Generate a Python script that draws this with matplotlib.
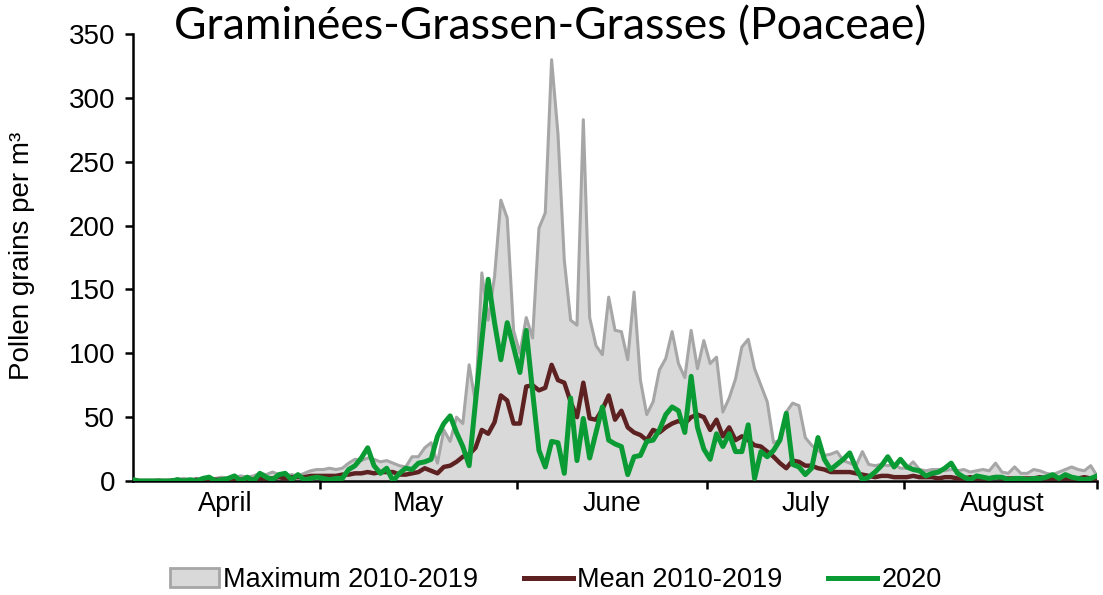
import numpy as np
import matplotlib.pyplot as plt
from matplotlib.patches import Patch
from matplotlib.lines import Line2D

# daily values, 1 April .. 31 August
months = ['April', 'May', 'June', 'July', 'August']
month_days = [30, 31, 30, 31, 31]

max_2010_2019 = [
    1, 0, 0, 0, 1, 0, 1, 1, 2, 1, 2, 1, 2,
    2, 3, 2, 3, 4, 3, 4, 6, 5, 7, 5, 4, 5,
    4, 6, 8, 9, 9, 10, 9, 10, 14, 17, 16, 18, 17, 15, 16, 14, 12, 11,
    19, 19, 26, 30, 14, 40, 31, 50, 45, 91, 61, 163, 126, 160, 220, 206,
    118, 100, 128, 112, 198, 210, 330, 272, 173, 126, 122, 283, 128, 106, 99, 144,
    118, 117, 95, 148, 79, 52, 62, 87, 96, 117, 92, 81, 118, 88,
    110, 92, 97, 54, 65, 80, 105, 111, 88, 75, 62, 30, 32, 54, 61, 59, 34, 28,
    24, 20, 21, 23, 16, 14, 12, 23, 13, 12, 13, 12, 13, 10, 10, 15,
    9, 8, 9, 9, 8, 9, 8, 9, 7, 8, 9, 8, 14, 7, 6, 11, 6, 6, 9, 8,
    6, 5, 7, 9, 11, 9, 8, 12, 4,
]

mean_2010_2019 = [
    0, 0, 0, 0, 0, 0, 0, 1, 0, 0,
    1, 0, 1, 1, 1, 1, 2, 1, 2, 1,
    2, 2, 2, 3, 2, 3, 3, 3, 4, 4,
    4, 4, 4, 5, 5, 6, 6, 7, 6, 7, 7, 7,
    5, 5, 6, 7, 10, 8, 6, 11, 12, 15, 19, 21, 26,
    40, 37, 46, 67, 63, 45, 45, 74, 75, 71, 73,
    91, 79, 77, 62, 50, 77, 49, 48, 56, 67,
    48, 55, 42, 38, 36, 32, 40, 38, 42, 45, 47, 45, 50, 52,
    50, 40, 48, 35, 42, 32, 35, 32, 28, 27, 23, 19, 14, 10, 16, 15, 12, 12,
    10, 9, 7, 7, 7, 7, 6, 5, 4, 3, 4, 4, 3,
    3, 3, 4, 3, 3, 3, 2, 3, 3, 2, 2, 3, 2, 2, 2, 3, 2, 2, 2, 2,
    2, 2, 3, 2, 2, 2, 2, 2, 2, 3, 2, 2,
]

pollen_2020 = [
    1, 0, 0, 0, 0, 0, 0, 1, 0, 1, 0, 2, 3, 0, 1, 2, 4, 0, 3, 0,
    6, 3, 1, 5, 6, 1, 5, 1, 2, 3, 2, 1, 2, 2,
    9, 12, 18, 26, 12, 6, 10, 0, 6, 10, 9, 14, 15, 17, 35, 45, 51, 38, 27, 12,
    62, 110, 158, 124, 95, 124, 105, 85, 118, 70, 24, 11, 31, 30, 6, 65, 16, 49, 18, 38, 58, 32,
    29, 27, 5, 19, 20, 31, 32, 40, 52, 58, 55, 38, 82, 42, 25, 17, 37, 27, 37, 23,
    23, 44, 2, 23, 19, 24, 32, 53, 13, 11, 5, 10,
    34, 17, 9, 13, 17, 22, 10, 1, 3, 7, 12, 19, 11, 17, 11, 9, 8, 4, 6, 7,
    10, 14, 6, 3, 1, 4, 3, 2, 3, 3, 1, 2, 2, 1, 2, 2, 3, 5, 2, 5, 3, 2, 1, 2, 4,
]

days = np.arange(len(max_2010_2019))

plt.rcParams['font.family'] = ['Liberation Sans', 'DejaVu Sans']

fig = plt.figure(figsize=(11.03, 5.95), dpi=100)
ax = fig.add_axes([0.1206, 0.1916, 0.874, 0.751])

ax.fill_between(days, max_2010_2019, color='#d9d9d9', lw=0, zorder=1)
ax.plot(days, max_2010_2019, color='#a6a6a6', lw=2.2, zorder=2)
ax.plot(days, mean_2010_2019, color='#5e2121', lw=3.2, zorder=3)
ax.plot(days, pollen_2020, color='#0b9b34', lw=3.6, zorder=4)

ax.set_xlim(0, len(days) - 1)
ax.set_ylim(0, 350)
ax.set_yticks(range(0, 351, 50))

# month boundaries as tick marks, month names in the middle
bounds = np.cumsum([0] + month_days) - 0.5
centers = (bounds[:-1] + bounds[1:]) / 2
ax.set_xticks(list(bounds[1:-1]) + [len(days) - 1])
ax.set_xticklabels([])
ax.set_xticks(centers, minor=True)
ax.set_xticklabels(months, minor=True)

for s in ['top', 'right']:
    ax.spines[s].set_visible(False)
for s in ['left', 'bottom']:
    ax.spines[s].set_linewidth(1.8)

ax.tick_params(axis='both', which='major', direction='out', length=6, width=1.8, labelsize=20)
ax.tick_params(axis='y', pad=7)
ax.tick_params(axis='x', which='minor', length=0, labelsize=19.5, pad=7)

fig.text(22 / 1103, 0.57, 'Pollen grains per m³', rotation=90, ha='center', va='center', fontsize=20)
fig.text(550 / 1103, 1 - 27 / 595, 'Graminées-Grassen-Grasses (Poaceae)', ha='center', va='center',
         fontsize=32, family=['Lato', 'DejaVu Sans'])

handles = [
    Patch(facecolor='#d9d9d9', edgecolor='#a6a6a6', linewidth=2),
    Line2D([0], [0], color='#5e2121', lw=3.6),
    Line2D([0], [0], color='#0b9b34', lw=3.6),
]
fig.legend(handles, ['Maximum 2010-2019', 'Mean 2010-2019', '2020'], loc='center',
           bbox_to_anchor=(556 / 1103, 15 / 595), ncol=3, frameon=False, fontsize=19.5,
           handlelength=1.8, handletextpad=0.15, columnspacing=1.7)

fig.savefig('out.png', dpi=100)
